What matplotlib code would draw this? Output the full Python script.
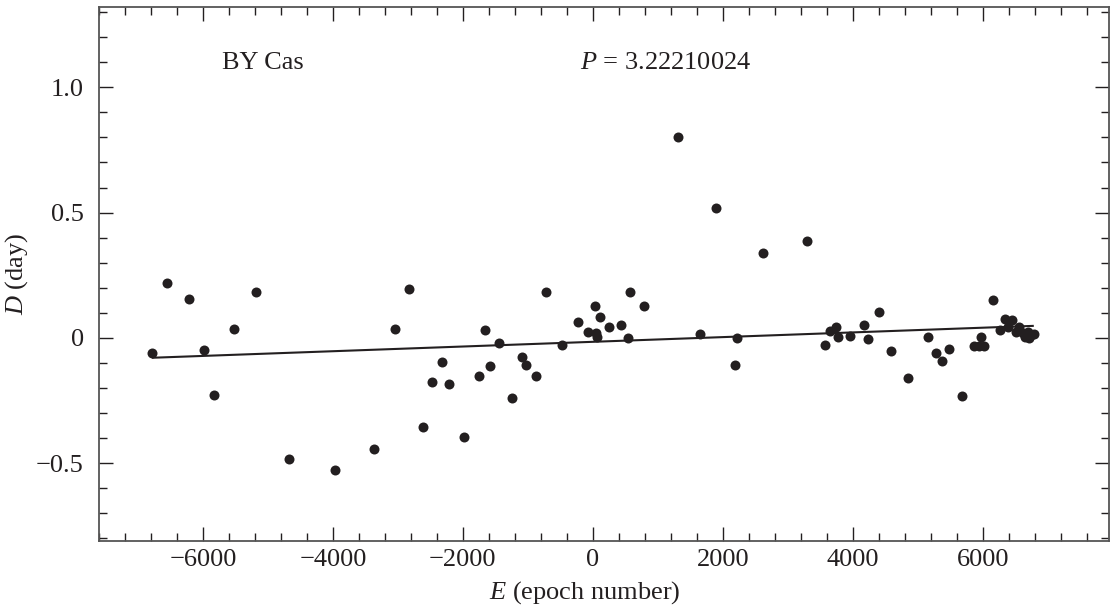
import matplotlib
matplotlib.use("Agg")
import matplotlib.pyplot as plt
from matplotlib.ticker import MultipleLocator

plt.rcParams['font.family'] = ['Liberation Serif', 'DejaVu Serif']
plt.rcParams['mathtext.fontset'] = 'custom'
plt.rcParams['mathtext.rm'] = 'Liberation Serif'
plt.rcParams['mathtext.it'] = 'Liberation Serif:italic'

# Data: epoch number E and O-C residual D (day)
E = [-6779, -6548, -6220, -5979, -5831, -5523, -5179, -4682, -3969, -3364,
     -3046, -2835, -2610, -2477, -2323, -2210, -1985, -1758, -1666, -1585,
     -1446, -1240, -1092, -1025, -882, -723, -482, -235, -82, 26,
     52, 62, 108, 242, 437, 534, 569, 785, 1308, 1652,
     1898, 2180, 2215, 2611, 3288, 3575, 3642, 3745, 3780, 3954,
     4175, 4231, 4406, 4591, 4852, 5165, 5288, 5375, 5477, 5677,
     5862, 5938, 5969, 6026, 6154, 6262, 6338, 6391, 6452, 6514,
     6554, 6615, 6657, 6692, 6718, 6745, 6795]
D = [-0.059, 0.218, 0.154, -0.049, -0.226, 0.036, 0.184, -0.482, -0.528, -0.442,
     0.036, 0.194, -0.354, -0.176, -0.096, -0.185, -0.396, -0.153, 0.032, -0.113,
     -0.019, -0.238, -0.075, -0.108, -0.152, 0.185, -0.029, 0.065, 0.023, 0.129,
     0.019, 0.003, 0.085, 0.045, 0.053, 0.001, 0.185, 0.129, 0.801, 0.015,
     0.520, -0.109, 0.000, 0.338, 0.387, -0.029, 0.029, 0.045, 0.004, 0.009,
     0.053, -0.005, 0.103, -0.051, -0.161, 0.004, -0.059, -0.091, -0.045, -0.232,
     -0.031, -0.031, 0.004, -0.031, 0.153, 0.033, 0.075, 0.045, 0.071, 0.025,
     0.045, 0.019, 0.005, 0.025, -0.001, 0.012, 0.016]

# Linear fit line endpoints
fit_E = [-6770, 6770]
fit_D = [-0.079, 0.048]

xticks = [-6000, -4000, -2000, 0, 2000, 4000, 6000]
xtick_labels = ['\u22126000', '\u22124000', '\u22122000', '0', '2000', '4000', '6000']
yticks = [-0.5, 0, 0.5, 1.0]
ytick_labels = ['\u22120.5', '0', '0.5', '1.0']

star_label = 'BY Cas'
period_label = '$P$ = 3.22210024'

ink = '#231f20'
fs = 19

fig = plt.figure(figsize=(11.10, 6.09), dpi=100)
ax = fig.add_axes([99/1110, 1 - 541/609, 1 - 99/1110 - 0.0005, (541 - 7)/609])

ax.plot(fit_E, fit_D, color=ink, lw=1.5, zorder=2)
ax.plot(E, D, 'o', color=ink, ms=7.2, mec='none', zorder=3)

ax.set_xlim(-7600, 7950)
ax.set_ylim(-0.81, 1.32)

ax.set_xticks(xticks)
ax.set_xticklabels(xtick_labels)
ax.set_yticks(yticks)
ax.set_yticklabels(ytick_labels)
ax.xaxis.set_minor_locator(MultipleLocator(400))
ax.yaxis.set_minor_locator(MultipleLocator(0.1))

ax.tick_params(which='both', direction='in', top=True, right=True,
               colors=ink, labelsize=fs, width=1.0)
ax.tick_params(which='major', length=10)
ax.tick_params(which='minor', length=6)
ax.tick_params(axis='x', which='major', pad=6)
ax.tick_params(axis='y', which='major', pad=11)
for lab in ax.get_xticklabels() + ax.get_yticklabels():
    lab.set_color(ink)

for s in ax.spines.values():
    s.set_color('#555555')
    s.set_linewidth(1.3)

ax.set_xlabel('$E$ (epoch number)', fontsize=fs, color=ink)
ax.xaxis.set_label_coords((585 - 99) / (1110 - 99), -0.072)
ax.set_ylabel('$D$ (day)', fontsize=fs, color=ink)
ax.yaxis.set_label_coords((30 - 99) / (1110 - 99), 0.5)

ax.text(-5080, 1.095, star_label, fontsize=fs, color=ink, ha='center', va='center')
ax.text(1120, 1.095, period_label, fontsize=fs, color=ink, ha='center', va='center')

fig.savefig('out.png', dpi=100)
